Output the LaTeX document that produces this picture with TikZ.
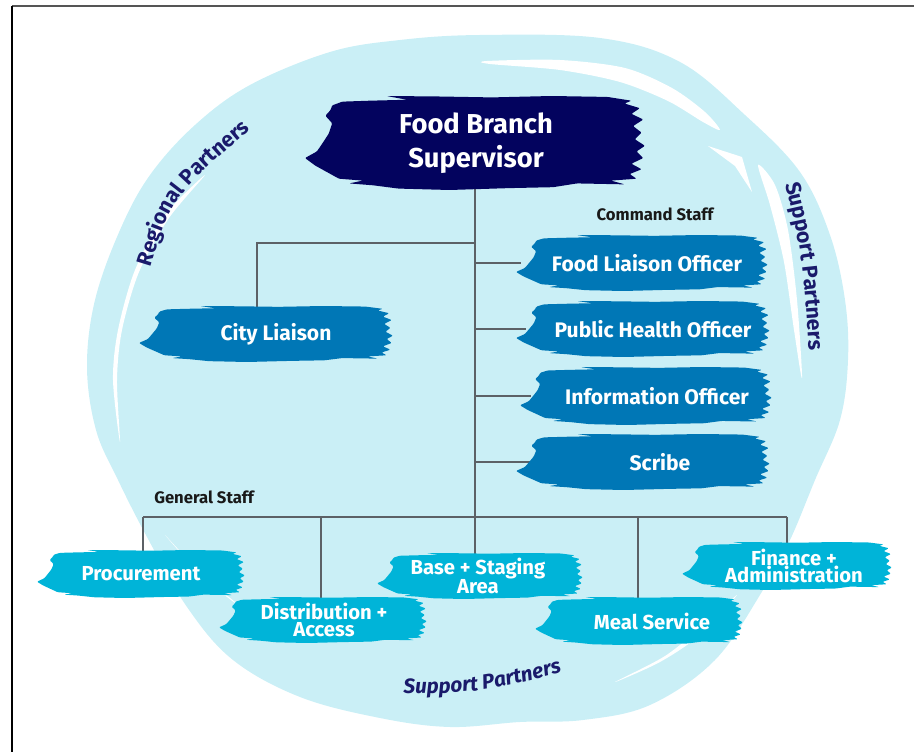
\documentclass[tikz,border=0pt]{standalone}
\usepackage{fontspec}
\setmainfont{Fira Sans}
\usetikzlibrary{decorations.text}

\definecolor{sky}{HTML}{CAEFF6}
\definecolor{navy}{HTML}{03035E}
\definecolor{cmdblue}{HTML}{0077B6}
\definecolor{genblue}{HTML}{00B4D8}
\definecolor{partner}{HTML}{1A1A6B}
\definecolor{wire}{HTML}{5C6166}
\definecolor{frame}{HTML}{555555}

\pgfdeclarelayer{back}
\pgfsetlayers{back,main}

% Brush-stroke box: [text dx]{name}{x}{y}{width}{height}{colour}{node style}{text}
\newcommand\brushnode[9][0]{%
  \begin{scope}[shift={(#3,#4)}, xscale=#5/2, yscale=#6/2]
    \fill[#7, rounded corners=0.8pt]
      (-0.84,-0.80) -- (-0.78,-0.88) -- (-0.62,-0.90) -- (-0.40,-0.92) -- (-0.52,-1.00)
      -- (-0.22,-0.99) -- (0.10,-0.97) -- (0.45,-1.00) -- (0.78,-0.98) -- (0.92,-0.90)
      -- (0.88,-0.84) -- (0.97,-0.74) -- (0.92,-0.62) -- (0.99,-0.50) -- (0.93,-0.36)
      -- (0.98,-0.22) -- (0.94,-0.08) -- (1.00,0.06) -- (0.95,0.18) -- (0.99,0.32)
      -- (0.92,0.44) -- (0.98,0.56) -- (0.91,0.66) -- (0.95,0.76) -- (0.80,0.80)
      -- (0.88,0.88) -- (0.60,0.86) -- (0.46,0.94) -- (0.20,0.96) -- (-0.15,1.00)
      -- (-0.45,0.97) -- (-0.60,0.90) -- (-0.74,0.86) -- (-0.66,0.80) -- (-0.80,0.76)
      -- (-0.87,0.62) -- (-0.94,0.48) -- (-1.00,0.32) -- (-0.93,0.18) -- (-0.90,0.02)
      -- (-0.86,-0.20) -- (-0.84,-0.42) -- (-0.88,-0.58) -- (-0.85,-0.70)
      -- cycle;
  \end{scope}
  \node[#8, minimum width=#5*0.75pt, minimum height=#6*0.75pt] (#2) at ({#3+(#1)},#4) {#9};
}

\begin{document}
\begin{tikzpicture}[x=0.75pt, y=-0.75pt,
  boxtext/.style={text=white, align=center, inner sep=0pt},
  supnode/.style={boxtext, font=\fontsize{20.5}{25}\selectfont\bfseries},
  cmdnode/.style={boxtext, font=\fontsize{15.8}{18}\selectfont\bfseries},
  gennode/.style={boxtext, font=\fontsize{15.2}{12.9}\selectfont\bfseries},
  lblnode/.style={text=black!90, inner sep=0pt, font=\fontsize{12.5}{14}\selectfont\bfseries},
  conn/.style={draw=wire, line width=2pt},
  streak/.style={fill=white, draw=none},
  partnerpath/.style={decorate, decoration={text along path, text align=center,
     text color=partner, text={|\fontsize{16}{18}\selectfont\bfseries|#1}}},
  partnerital/.style={decorate, decoration={text along path, text align=center,
     text color=partner, text={|\fontsize{15.5}{18}\selectfont\bfseries\itshape|#1}}}
]
\useasboundingbox (0,0) rectangle (914,752);

\begin{pgfonlayer}{back}
  % light blue wash behind the chart
  \fill[sky] plot[smooth cycle, tension=0.6] coordinates {
    (480,35) (600,38) (680,62) (745,115) (800,172) (830,235) (845,300) (848,360)
    (840,420) (815,480) (790,540) (763,590) (715,660) (650,705) (583,720) (520,722)
    (450,727) (380,718) (300,697) (233,660) (187,607) (147,537) (118,480) (96,430)
    (87,367) (95,300) (120,230) (150,175) (195,125) (250,85) (330,52) (400,40)};
  % white gaps left by the brush
  \fill[streak] plot[smooth cycle, tension=0.5] coordinates {
    (487,61) (560,60) (625,68) (672,88) (705,112) (720,130) (703,122) (668,101)
    (620,82) (560,70) (490,64)};
  \fill[streak] (708,146) -- (742,157) -- (752,192) -- (735,166) -- cycle;
  \fill[streak] plot[smooth cycle, tension=0.5] coordinates {
    (758,165) (775,185) (788,230) (797,300) (802,378) (794,330) (784,262) (770,205)};
  \fill[streak] plot[smooth cycle, tension=0.5] coordinates {
    (205,175) (165,215) (135,270) (118,330) (113,380) (120,442) (117,380) (122,330)
    (139,272) (169,218)};
  \fill[streak] plot[smooth cycle, tension=0.5] coordinates {
    (165,535) (200,572) (242,608) (204,578)};
  \fill[streak] plot[smooth cycle, tension=0.5] coordinates {
    (737,595) (700,635) (660,662) (615,682) (665,656) (705,624)};

  % curved partner captions
  \path[partnerpath={Regional Partners}] (145,285) .. controls (172,195) .. (265,118);
  \path[partnerpath={Support Partners}] (781,165) .. controls (803,255) .. (810,370);
  \path[partnerital={Support Partners}] (385,694) .. controls (480,693) .. (580,668);
\end{pgfonlayer}

% frame edges
\draw[frame, line width=1.5pt] (12,6) -- (914,6);
\draw[black, line width=1.5pt] (12,6) -- (12,752);

% boxes
\brushnode[1]{sup}{475}{143}{340}{94}{navy}{supnode}{Food Branch\\Supervisor}
\brushnode[5]{fl}{642}{263}{252}{56}{cmdblue}{cmdnode}{Food Liaison Officer}
\brushnode[10]{ph}{643}{329}{254}{56}{cmdblue}{cmdnode}{Public Health Officer}
\brushnode[11]{io}{646}{396}{252}{58}{cmdblue}{cmdnode}{Information Officer}
\brushnode[17]{sc}{643}{462}{254}{56}{cmdblue}{cmdnode}{Scribe}
\brushnode[10]{cl}{266}{334}{254}{56}{cmdblue}{cmdnode}{City Liaison}
\brushnode[0]{proc}{141}{574}{208}{48}{genblue}{gennode}{Procurement}
\brushnode[1]{dist}{323}{620}{208}{46}{genblue}{gennode}{Distribution +\\Access}
\brushnode[-2]{base}{480}{576}{206}{46}{genblue}{gennode}{Base + Staging\\Area}
\brushnode[13]{meal}{639}{621}{208}{48}{genblue}{gennode}{Meal Service}
\brushnode[7]{fin}{787}{566}{210}{48}{genblue}{gennode}{Finance +\\Administration}

% group captions
\node[lblnode] (cmdlbl) at (655,214) {Command Staff};
\node[lblnode] (genlbl) at (204,497) {General Staff};

% connectors, kept underneath the boxes
\coordinate (trunkEnd) at (475,517);
\coordinate (cityJ) at (475,243);
\coordinate (cityDrop) at (257,243);
\coordinate (barL) at (143,517);
\coordinate (barR) at (787,517);
\coordinate (dDist) at (321,517);
\coordinate (dMeal) at (638,517);
\begin{pgfonlayer}{back}
  \draw[conn] (sup.center -| trunkEnd) -- (trunkEnd);
  \draw[conn] (cityJ) -- (cityDrop) -- (cityDrop |- cl.center);
  \foreach \n in {fl,ph,io,sc}
    \draw[conn] (\n.west -| trunkEnd) -- (\n.west);
  \draw[conn] (barL) -- (barR);
  \draw[conn] (barL) -- (barL |- proc.center);
  \draw[conn] (dDist) -- (dDist |- dist.center);
  \draw[conn] (trunkEnd) -- (trunkEnd |- base.center);
  \draw[conn] (dMeal) -- (dMeal |- meal.center);
  \draw[conn] (barR) -- (barR |- fin.center);
\end{pgfonlayer}
\end{tikzpicture}
\end{document}
